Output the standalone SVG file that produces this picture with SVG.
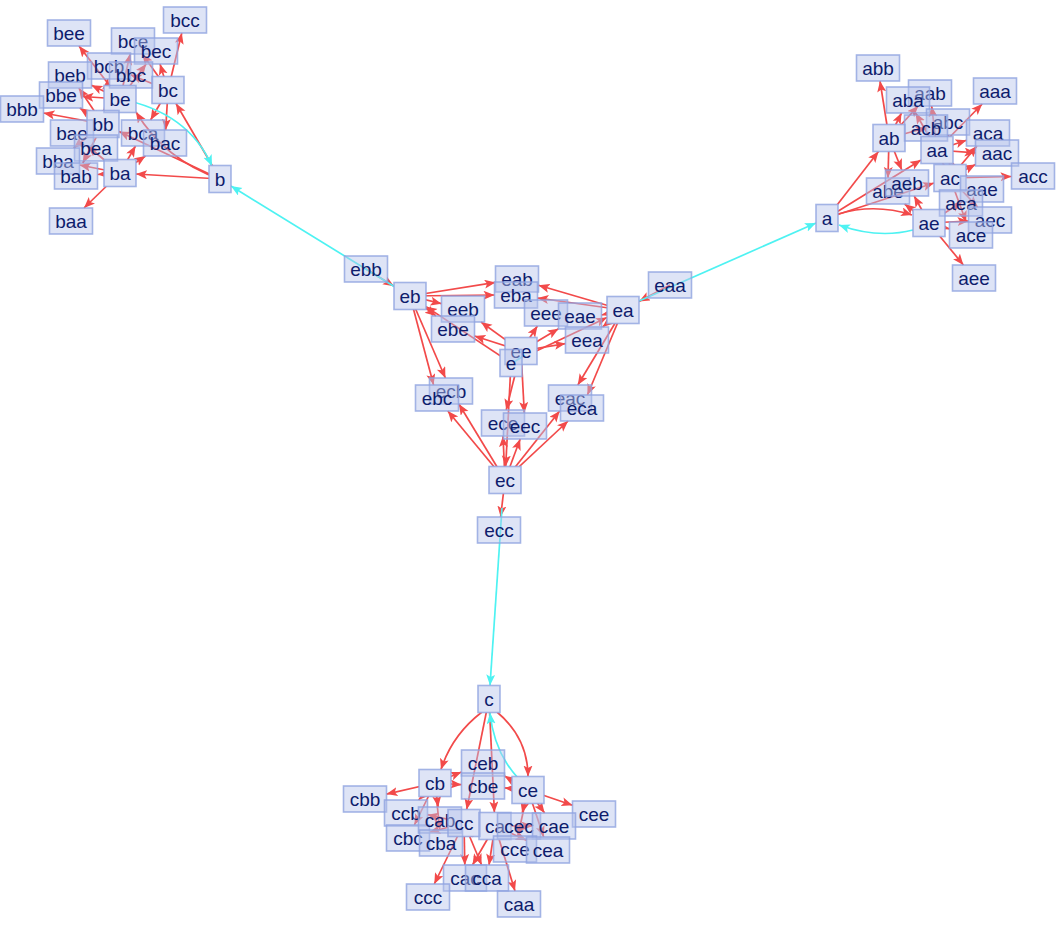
<svg xmlns="http://www.w3.org/2000/svg" width="1056" height="926" viewBox="0 0 1056 926">
<style>
.bg{fill:#ffffff}
#edges path,#edges2 path{fill:none;stroke-width:1.7}
.r{stroke:#f24a4a;marker-end:url(#ar)}
.cy{stroke:#4ef2f2;marker-end:url(#ac)}
.nd rect{fill:#b6c3eb;fill-opacity:0.45;stroke:#8fa3e0;stroke-opacity:0.8;stroke-width:1.6}
.nd text{font-family:"Liberation Sans",Arial,sans-serif;font-size:19px;fill:#0e1c6c;text-anchor:middle}
.mk rect{fill:#000000}
</style>
<defs>
<marker id="ar" markerUnits="userSpaceOnUse" markerWidth="12" markerHeight="10" refX="11" refY="4.5" orient="auto"><path d="M0,0 L11,4.5 L0,9 L2.5,4.5 z" fill="#f24a4a"/></marker>
<marker id="ac" markerUnits="userSpaceOnUse" markerWidth="12" markerHeight="10" refX="11" refY="4.5" orient="auto"><path d="M0,0 L11,4.5 L0,9 L2.5,4.5 z" fill="#4ef2f2"/></marker>
<mask id="m" maskUnits="userSpaceOnUse" x="0" y="0" width="1056" height="926">
<rect x="0" y="0" width="1056" height="926" fill="#ffffff"/>
<g class="mk">
<rect x="816" y="204.5" width="22" height="27"/>
<rect x="921" y="136.5" width="32" height="27"/>
<rect x="873" y="124.5" width="32" height="27"/>
<rect x="934" y="164.5" width="32" height="27"/>
<rect x="913" y="209.5" width="32" height="27"/>
<rect x="209" y="165.5" width="22" height="27"/>
<rect x="104" y="159.5" width="32" height="27"/>
<rect x="87" y="110.5" width="32" height="27"/>
<rect x="152" y="76.5" width="32" height="27"/>
<rect x="104" y="85.5" width="32" height="27"/>
<rect x="478" y="685.5" width="22" height="27"/>
<rect x="479" y="812.5" width="32" height="27"/>
<rect x="419" y="769.5" width="32" height="27"/>
<rect x="448" y="809.5" width="32" height="27"/>
<rect x="512" y="776.5" width="32" height="27"/>
<rect x="500" y="349.5" width="22" height="27"/>
<rect x="607" y="296.5" width="32" height="27"/>
<rect x="394" y="282.5" width="32" height="27"/>
<rect x="489" y="466.5" width="32" height="27"/>
<rect x="505" y="337.5" width="32" height="27"/>
</g>
</mask>
</defs>
<rect class="bg" x="0" y="0" width="1056" height="926"/>
<g id="edges" mask="url(#m)">
<path class="r" d="M220,179 L136,174"/>
<path class="r" d="M220,179 L119,131.5"/>
<path class="r" d="M220,179 L176,103.5"/>
<path class="r" d="M220,179 Q165,160 136,112"/>
<path class="r" d="M120,173 L84,208"/>
<path class="r" d="M120,173 L97.5,174.5"/>
<path class="r" d="M120,173 L145.5,156"/>
<path class="r" d="M120,173 L87.6,146"/>
<path class="r" d="M120,173 L79.5,165"/>
<path class="r" d="M120,173 L135.5,146"/>
<path class="r" d="M120,173 L108.5,161"/>
<path class="r" d="M103,124 L73.8,148"/>
<path class="r" d="M103,124 L43.5,113"/>
<path class="r" d="M103,124 L123.6,88"/>
<path class="r" d="M103,124 L79.8,108"/>
<path class="r" d="M103,124 L82.8,163"/>
<path class="r" d="M103,124 L107.7,79"/>
<path class="r" d="M103,124 L78.8,88"/>
<path class="r" d="M168,90 L150.6,120"/>
<path class="r" d="M168,90 L130.5,74.7"/>
<path class="r" d="M168,90 L181.8,33"/>
<path class="r" d="M168,90 L142.3,54"/>
<path class="r" d="M168,90 L165.7,130"/>
<path class="r" d="M168,90 L152.5,83.7"/>
<path class="r" d="M168,90 L160,64"/>
<path class="r" d="M120,99 L102.4,135"/>
<path class="r" d="M120,99 L91.5,85.3"/>
<path class="r" d="M120,99 L146.2,64"/>
<path class="r" d="M120,99 L79,46"/>
<path class="r" d="M120,99 L90.3,120"/>
<path class="r" d="M120,99 L82.5,96.5"/>
<path class="r" d="M120,99 L130.1,54"/>
<path class="r" d="M827,218 L921,160"/>
<path class="r" d="M827,218 L878.5,151.5"/>
<path class="r" d="M827,218 L934,183"/>
<path class="r" d="M838,214 Q875,203 912,215"/>
<path class="r" d="M937,150 L982.2,104"/>
<path class="r" d="M937,150 L931.6,106"/>
<path class="r" d="M937,150 L975.5,152.8"/>
<path class="r" d="M937,150 L967,176"/>
<path class="r" d="M937,150 L915.5,113"/>
<path class="r" d="M937,150 L966.5,140.2"/>
<path class="r" d="M937,150 L955,190"/>
<path class="r" d="M889,138 L901.5,113"/>
<path class="r" d="M889,138 L880,81"/>
<path class="r" d="M889,138 L926.5,127.8"/>
<path class="r" d="M889,138 L888,178"/>
<path class="r" d="M889,138 L918.2,106"/>
<path class="r" d="M889,138 L904.5,133.8"/>
<path class="r" d="M889,138 L901.8,170"/>
<path class="r" d="M950,178 L977,146"/>
<path class="r" d="M950,178 L932.2,141"/>
<path class="r" d="M950,178 L1011.5,176.5"/>
<path class="r" d="M950,178 L966.2,222"/>
<path class="r" d="M950,178 L975.5,164.4"/>
<path class="r" d="M950,178 L948.5,135"/>
<path class="r" d="M950,178 L977.6,207"/>
<path class="r" d="M929,223 L940.2,216"/>
<path class="r" d="M929,223 L914.2,196"/>
<path class="r" d="M929,223 L968.5,221"/>
<path class="r" d="M929,223 L963.4,265"/>
<path class="r" d="M929,223 L961.8,202"/>
<path class="r" d="M929,223 L904.6,204"/>
<path class="r" d="M929,223 L949.5,228.9"/>
<path class="r" d="M511,363 L607,317.6"/>
<path class="r" d="M511,363 L426,306.6"/>
<path class="r" d="M511,363 L505.7,466.5"/>
<path class="r" d="M670,285 L639,301.5"/>
<path class="r" d="M623,310 L538.5,285.3"/>
<path class="r" d="M623,310 L577.8,385"/>
<path class="r" d="M623,310 L601.5,315"/>
<path class="r" d="M623,310 L537.5,298"/>
<path class="r" d="M623,310 L587.4,395"/>
<path class="r" d="M623,310 L602.6,327"/>
<path class="r" d="M366,269 L394,286.2"/>
<path class="r" d="M410,296 L494.5,295"/>
<path class="r" d="M410,296 L433.6,385"/>
<path class="r" d="M410,296 L436,316"/>
<path class="r" d="M410,296 L495.5,282.4"/>
<path class="r" d="M410,296 L445.4,378"/>
<path class="r" d="M410,296 L441.5,303.7"/>
<path class="r" d="M505,480 L568.1,421"/>
<path class="r" d="M505,480 L458.9,404"/>
<path class="r" d="M505,480 L500.6,517"/>
<path class="r" d="M505,480 L503,436"/>
<path class="r" d="M505,480 L559.7,411"/>
<path class="r" d="M505,480 L447.8,411"/>
<path class="r" d="M505,480 L520.2,439"/>
<path class="r" d="M521,351 L565.5,343.6"/>
<path class="r" d="M521,351 L481,322"/>
<path class="r" d="M521,351 L524.3,413"/>
<path class="r" d="M521,351 L537.4,326"/>
<path class="r" d="M521,351 L558.5,328.7"/>
<path class="r" d="M521,351 L474.5,336"/>
<path class="r" d="M521,351 L506.2,410"/>
<path class="r" d="M489,699 L494.4,812.5"/>
<path class="r" d="M482,712 Q452,735 441,769.5"/>
<path class="r" d="M489,699 L466.7,809.5"/>
<path class="r" d="M497,712 Q528,738 528,776.5"/>
<path class="r" d="M495,826 L515,891"/>
<path class="r" d="M495,826 L461.5,820.7"/>
<path class="r" d="M495,826 L472.5,865"/>
<path class="r" d="M495,826 L532.5,826"/>
<path class="r" d="M495,826 L462.5,836.2"/>
<path class="r" d="M495,826 L489,865"/>
<path class="r" d="M495,826 L526.5,840.3"/>
<path class="r" d="M435,783 L439.7,830"/>
<path class="r" d="M435,783 L386.5,794.1"/>
<path class="r" d="M435,783 L414.4,825"/>
<path class="r" d="M435,783 L461.5,784.7"/>
<path class="r" d="M435,783 L438.2,807"/>
<path class="r" d="M435,783 L418.6,800"/>
<path class="r" d="M435,783 L461.5,772"/>
<path class="r" d="M464,823 L481.6,865"/>
<path class="r" d="M464,823 L427.5,814.7"/>
<path class="r" d="M464,823 L434.3,884"/>
<path class="r" d="M464,823 L493.5,838.1"/>
<path class="r" d="M464,823 L464.8,865"/>
<path class="r" d="M464,823 L429.5,832.2"/>
<path class="r" d="M464,823 L497.5,824.8"/>
<path class="r" d="M528,790 L543.7,837"/>
<path class="r" d="M528,790 L504.5,775.9"/>
<path class="r" d="M528,790 L522.2,813"/>
<path class="r" d="M528,790 L572.5,805.2"/>
<path class="r" d="M528,790 L544.6,813"/>
<path class="r" d="M528,790 L504.5,787.9"/>
<path class="r" d="M528,790 L517.9,836"/>
<path class="cy" d="M120,99 Q188,112 212,166"/>
<path class="cy" d="M913,230 Q878,239 839,225"/>
<path class="cy" d="M518,778 Q494,752 490,713"/>
<path class="cy" d="M395,287 L231,186"/>
<path class="cy" d="M639,301 L816,223"/>
<path class="cy" d="M502,508 L490,685.5"/>
</g>
<g id="edges2">
<path class="cy" d="M525,355 L514,362" style="marker-end:none"/>
</g>
<g id="n-bee" class="nd"><rect x="47.5" y="20" width="43" height="26"/><text x="69" y="39.5">bee</text></g>
<g id="n-bcc" class="nd"><rect x="163.5" y="7" width="43" height="26"/><text x="185" y="26.5">bcc</text></g>
<g id="n-bce" class="nd"><rect x="111.5" y="28" width="43" height="26"/><text x="133" y="47.5">bce</text></g>
<g id="n-bec" class="nd"><rect x="134.5" y="38" width="43" height="26"/><text x="156" y="57.5">bec</text></g>
<g id="n-bcb" class="nd"><rect x="87.5" y="53" width="43" height="26"/><text x="109" y="72.5">bcb</text></g>
<g id="n-bbc" class="nd"><rect x="109.5" y="62" width="43" height="26"/><text x="131" y="81.5">bbc</text></g>
<g id="n-beb" class="nd"><rect x="48.5" y="62" width="43" height="26"/><text x="70" y="81.5">beb</text></g>
<g id="n-bbe" class="nd"><rect x="39.5" y="82" width="43" height="26"/><text x="61" y="101.5">bbe</text></g>
<g id="n-bbb" class="nd"><rect x="0.5" y="96" width="43" height="26"/><text x="22" y="115.5">bbb</text></g>
<g id="n-bc" class="nd"><rect x="152" y="76.5" width="32" height="27"/><text x="168" y="96.5">bc</text></g>
<g id="n-be" class="nd"><rect x="104" y="85.5" width="32" height="27"/><text x="120" y="105.5">be</text></g>
<g id="n-bae" class="nd"><rect x="50.5" y="120" width="43" height="26"/><text x="72" y="139.5">bae</text></g>
<g id="n-bb" class="nd"><rect x="87" y="110.5" width="32" height="27"/><text x="103" y="130.5">bb</text></g>
<g id="n-bca" class="nd"><rect x="121.5" y="120" width="43" height="26"/><text x="143" y="139.5">bca</text></g>
<g id="n-bac" class="nd"><rect x="143.5" y="130" width="43" height="26"/><text x="165" y="149.5">bac</text></g>
<g id="n-bea" class="nd"><rect x="74.5" y="135" width="43" height="26"/><text x="96" y="154.5">bea</text></g>
<g id="n-bba" class="nd"><rect x="36.5" y="148" width="43" height="26"/><text x="58" y="167.5">bba</text></g>
<g id="n-bab" class="nd"><rect x="54.5" y="163" width="43" height="26"/><text x="76" y="182.5">bab</text></g>
<g id="n-ba" class="nd"><rect x="104" y="159.5" width="32" height="27"/><text x="120" y="179.5">ba</text></g>
<g id="n-b" class="nd"><rect x="209" y="165.5" width="22" height="27"/><text x="220" y="185.5">b</text></g>
<g id="n-baa" class="nd"><rect x="49.5" y="208" width="43" height="26"/><text x="71" y="227.5">baa</text></g>
<g id="n-abb" class="nd"><rect x="856.5" y="55" width="43" height="26"/><text x="878" y="74.5">abb</text></g>
<g id="n-aaa" class="nd"><rect x="973.5" y="78" width="43" height="26"/><text x="995" y="97.5">aaa</text></g>
<g id="n-aab" class="nd"><rect x="908.5" y="80" width="43" height="26"/><text x="930" y="99.5">aab</text></g>
<g id="n-aba" class="nd"><rect x="886.5" y="87" width="43" height="26"/><text x="908" y="106.5">aba</text></g>
<g id="n-abc" class="nd"><rect x="926.5" y="109" width="43" height="26"/><text x="948" y="128.5">abc</text></g>
<g id="n-acb" class="nd"><rect x="904.5" y="115" width="43" height="26"/><text x="926" y="134.5">acb</text></g>
<g id="n-aca" class="nd"><rect x="966.5" y="120" width="43" height="26"/><text x="988" y="139.5">aca</text></g>
<g id="n-ab" class="nd"><rect x="873" y="124.5" width="32" height="27"/><text x="889" y="144.5">ab</text></g>
<g id="n-aa" class="nd"><rect x="921" y="136.5" width="32" height="27"/><text x="937" y="156.5">aa</text></g>
<g id="n-aac" class="nd"><rect x="975.5" y="140" width="43" height="26"/><text x="997" y="159.5">aac</text></g>
<g id="n-acc" class="nd"><rect x="1011.5" y="163" width="43" height="26"/><text x="1033" y="182.5">acc</text></g>
<g id="n-abe" class="nd"><rect x="866.5" y="178" width="43" height="26"/><text x="888" y="197.5">abe</text></g>
<g id="n-aeb" class="nd"><rect x="885.5" y="170" width="43" height="26"/><text x="907" y="189.5">aeb</text></g>
<g id="n-ac" class="nd"><rect x="934" y="164.5" width="32" height="27"/><text x="950" y="184.5">ac</text></g>
<g id="n-aae" class="nd"><rect x="960.5" y="176" width="43" height="26"/><text x="982" y="195.5">aae</text></g>
<g id="n-aea" class="nd"><rect x="939.5" y="190" width="43" height="26"/><text x="961" y="209.5">aea</text></g>
<g id="n-aec" class="nd"><rect x="968.5" y="207" width="43" height="26"/><text x="990" y="226.5">aec</text></g>
<g id="n-ace" class="nd"><rect x="949.5" y="222" width="43" height="26"/><text x="971" y="241.5">ace</text></g>
<g id="n-ae" class="nd"><rect x="913" y="209.5" width="32" height="27"/><text x="929" y="229.5">ae</text></g>
<g id="n-a" class="nd"><rect x="816" y="204.5" width="22" height="27"/><text x="827" y="224.5">a</text></g>
<g id="n-aee" class="nd"><rect x="952.5" y="265" width="43" height="26"/><text x="974" y="284.5">aee</text></g>
<g id="n-ebb" class="nd"><rect x="344.5" y="256" width="43" height="26"/><text x="366" y="275.5">ebb</text></g>
<g id="n-eaa" class="nd"><rect x="648.5" y="272" width="43" height="26"/><text x="670" y="291.5">eaa</text></g>
<g id="n-eab" class="nd"><rect x="495.5" y="266" width="43" height="26"/><text x="517" y="285.5">eab</text></g>
<g id="n-eba" class="nd"><rect x="494.5" y="282" width="43" height="26"/><text x="516" y="301.5">eba</text></g>
<g id="n-eb" class="nd"><rect x="394" y="282.5" width="32" height="27"/><text x="410" y="302.5">eb</text></g>
<g id="n-eeb" class="nd"><rect x="441.5" y="296" width="43" height="26"/><text x="463" y="315.5">eeb</text></g>
<g id="n-ebe" class="nd"><rect x="431.5" y="316" width="43" height="26"/><text x="453" y="335.5">ebe</text></g>
<g id="n-eee" class="nd"><rect x="524.5" y="300" width="43" height="26"/><text x="546" y="319.5">eee</text></g>
<g id="n-eae" class="nd"><rect x="558.5" y="303" width="43" height="26"/><text x="580" y="322.5">eae</text></g>
<g id="n-eea" class="nd"><rect x="565.5" y="327" width="43" height="26"/><text x="587" y="346.5">eea</text></g>
<g id="n-ea" class="nd"><rect x="607" y="296.5" width="32" height="27"/><text x="623" y="316.5">ea</text></g>
<g id="n-ee" class="nd"><rect x="505" y="337.5" width="32" height="27"/><text x="521" y="357.5">ee</text></g>
<g id="n-e" class="nd"><rect x="500" y="349.5" width="22" height="27"/><text x="511" y="369.5">e</text></g>
<g id="n-ecb" class="nd"><rect x="429.5" y="378" width="43" height="26"/><text x="451" y="397.5">ecb</text></g>
<g id="n-ebc" class="nd"><rect x="415.5" y="385" width="43" height="26"/><text x="437" y="404.5">ebc</text></g>
<g id="n-eac" class="nd"><rect x="548.5" y="385" width="43" height="26"/><text x="570" y="404.5">eac</text></g>
<g id="n-eca" class="nd"><rect x="560.5" y="395" width="43" height="26"/><text x="582" y="414.5">eca</text></g>
<g id="n-ece" class="nd"><rect x="481.5" y="410" width="43" height="26"/><text x="503" y="429.5">ece</text></g>
<g id="n-eec" class="nd"><rect x="503.5" y="413" width="43" height="26"/><text x="525" y="432.5">eec</text></g>
<g id="n-ec" class="nd"><rect x="489" y="466.5" width="32" height="27"/><text x="505" y="486.5">ec</text></g>
<g id="n-ecc" class="nd"><rect x="477.5" y="517" width="43" height="26"/><text x="499" y="536.5">ecc</text></g>
<g id="n-c" class="nd"><rect x="478" y="685.5" width="22" height="27"/><text x="489" y="705.5">c</text></g>
<g id="n-ceb" class="nd"><rect x="461.5" y="750" width="43" height="26"/><text x="483" y="769.5">ceb</text></g>
<g id="n-cbe" class="nd"><rect x="461.5" y="773" width="43" height="26"/><text x="483" y="792.5">cbe</text></g>
<g id="n-cb" class="nd"><rect x="419" y="769.5" width="32" height="27"/><text x="435" y="789.5">cb</text></g>
<g id="n-ce" class="nd"><rect x="512" y="776.5" width="32" height="27"/><text x="528" y="796.5">ce</text></g>
<g id="n-cbb" class="nd"><rect x="343.5" y="786" width="43" height="26"/><text x="365" y="805.5">cbb</text></g>
<g id="n-cee" class="nd"><rect x="572.5" y="801" width="43" height="26"/><text x="594" y="820.5">cee</text></g>
<g id="n-ccb" class="nd"><rect x="384.5" y="800" width="43" height="26"/><text x="406" y="819.5">ccb</text></g>
<g id="n-cbc" class="nd"><rect x="386.5" y="825" width="43" height="26"/><text x="408" y="844.5">cbc</text></g>
<g id="n-cab" class="nd"><rect x="418.5" y="807" width="43" height="26"/><text x="440" y="826.5">cab</text></g>
<g id="n-cba" class="nd"><rect x="419.5" y="830" width="43" height="26"/><text x="441" y="849.5">cba</text></g>
<g id="n-cc" class="nd"><rect x="448" y="809.5" width="32" height="27"/><text x="464" y="829.5">cc</text></g>
<g id="n-ca" class="nd"><rect x="479" y="812.5" width="32" height="27"/><text x="495" y="832.5">ca</text></g>
<g id="n-cec" class="nd"><rect x="497.5" y="813" width="43" height="26"/><text x="519" y="832.5">cec</text></g>
<g id="n-cae" class="nd"><rect x="532.5" y="813" width="43" height="26"/><text x="554" y="832.5">cae</text></g>
<g id="n-cce" class="nd"><rect x="493.5" y="836" width="43" height="26"/><text x="515" y="855.5">cce</text></g>
<g id="n-cea" class="nd"><rect x="526.5" y="837" width="43" height="26"/><text x="548" y="856.5">cea</text></g>
<g id="n-cac" class="nd"><rect x="443.5" y="865" width="43" height="26"/><text x="465" y="884.5">cac</text></g>
<g id="n-cca" class="nd"><rect x="465.5" y="865" width="43" height="26"/><text x="487" y="884.5">cca</text></g>
<g id="n-ccc" class="nd"><rect x="406.5" y="884" width="43" height="26"/><text x="428" y="903.5">ccc</text></g>
<g id="n-caa" class="nd"><rect x="497.5" y="891" width="43" height="26"/><text x="519" y="910.5">caa</text></g>
</svg>
